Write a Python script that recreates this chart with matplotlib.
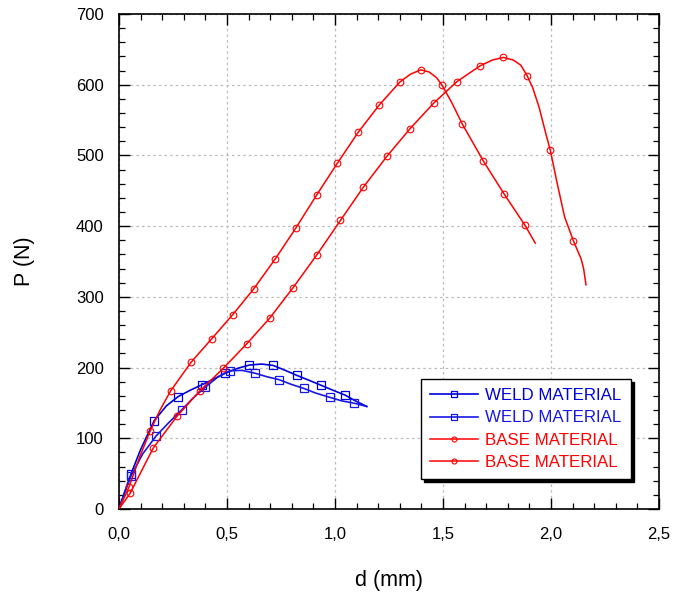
import matplotlib
matplotlib.use("Agg")
import matplotlib.pyplot as plt
from matplotlib.ticker import MultipleLocator, FuncFormatter

plt.rcParams['font.family'] = ['Liberation Sans', 'DejaVu Sans']

# ---- data ----
weld1_x = [0, 0.02, 0.056, 0.10, 0.163, 0.22, 0.274, 0.33, 0.386, 0.44, 0.49, 0.55, 0.603,
           0.66, 0.714, 0.77, 0.823, 0.88, 0.935, 0.99, 1.047, 1.10, 1.147]
weld1_y = [0, 19, 50, 84, 125, 146, 159, 168, 176, 184, 192, 199, 203.5,
           205, 203, 196, 189, 182, 175, 168, 161, 152, 145]
weld1_marks = [2, 4, 6, 8, 10, 12, 14, 16, 18, 20]

weld2_x = [0, 0.025, 0.056, 0.11, 0.171, 0.23, 0.29, 0.34, 0.398, 0.455, 0.514, 0.57, 0.63,
           0.685, 0.740, 0.80, 0.856, 0.91, 0.975, 1.03, 1.09, 1.147]
weld2_y = [0, 22, 47, 78, 103, 122, 140, 156, 172, 186, 195.6, 196, 192,
           187, 183, 176, 170.5, 164, 158, 153, 149.5, 145]
weld2_marks = [2, 4, 6, 8, 10, 12, 14, 16, 18, 20]

base1_x = [0, 0.047, 0.095, 0.144, 0.19, 0.239, 0.335, 0.430, 0.527, 0.623, 0.722, 0.818,
           0.915, 1.011, 1.108, 1.204, 1.301, 1.35, 1.397, 1.436, 1.47, 1.494, 1.54,
           1.590, 1.687, 1.784, 1.880, 1.927]
base1_y = [0, 31.6, 73, 110, 140, 167, 208, 241, 275, 311, 353, 397,
           444, 489, 533, 571, 604, 615, 621, 618, 610, 600, 575,
           544, 492, 445, 401, 376]
base1_marks = [1, 3, 5, 6, 7, 8, 9, 10, 11, 12, 13, 14, 15, 16, 18, 21, 23, 24, 25, 26]

base2_x = [0, 0.051, 0.158, 0.268, 0.374, 0.483, 0.591, 0.698, 0.806, 0.915, 1.025,
           1.131, 1.241, 1.348, 1.457, 1.563, 1.673, 1.73, 1.780, 1.826, 1.86, 1.889,
           1.915, 1.945, 1.975, 1.997, 2.029, 2.063, 2.104, 2.139, 2.151, 2.162]
base2_y = [0, 22, 86, 131, 167, 199, 233.5, 270, 313, 359, 408,
           455, 499, 538, 574, 604, 627, 635, 638.6, 634.8, 627.7, 613,
           596, 568, 532, 507, 460, 413, 379, 354, 340, 317]
base2_marks = [1, 2, 3, 4, 5, 6, 7, 8, 9, 10, 11, 12, 13, 14, 15, 16, 18, 21, 25, 28]

labels = ["WELD MATERIAL", "WELD MATERIAL", "BASE MATERIAL", "BASE MATERIAL"]
x_ticks = [0, 0.5, 1.0, 1.5, 2.0, 2.5]
y_ticks = [0, 100, 200, 300, 400, 500, 600, 700]

# ---- figure ----
fig = plt.figure(figsize=(6.75, 5.99), dpi=100)
ax = fig.add_axes([119/675, 1-509/599, 540/675, 495/599])

blue1 = '#0000DD'
blue2 = '#1818E6'
red = '#FF0000'

ax.plot(weld1_x, weld1_y, color=blue1, lw=1.2, marker='s', ms=5.2, mfc='none',
        mew=0.9, markevery=weld1_marks, label=labels[0], zorder=3)
ax.plot(weld2_x, weld2_y, color=blue2, lw=1.2, marker='s', ms=5.2, mfc='none',
        mew=0.9, markevery=weld2_marks, label=labels[1], zorder=3)
ax.plot(base1_x, base1_y, color=red, lw=1.1, marker='o', ms=4.8, mfc='none',
        mew=0.8, markevery=base1_marks, label=labels[2], zorder=3)
ax.plot(base2_x, base2_y, color=red, lw=1.1, marker='o', ms=4.8, mfc='none',
        mew=0.8, markevery=base2_marks, label=labels[3], zorder=3)

ax.set_xlim(0, 2.5)
ax.set_ylim(0, 700)
ax.set_xticks(x_ticks)
ax.set_yticks(y_ticks)
ax.xaxis.set_minor_locator(MultipleLocator(0.1))
ax.yaxis.set_minor_locator(MultipleLocator(20))
ax.xaxis.set_major_formatter(FuncFormatter(lambda v, p: f"{v:.1f}".replace('.', ',')))
ax.yaxis.set_major_formatter(FuncFormatter(lambda v, p: f"{v:.0f}"))

ax.tick_params(which='both', direction='in', top=True, right=True, colors='black',
               labelsize=12)
ax.tick_params(which='major', length=8, width=1)
ax.tick_params(axis='x', which='major', pad=13)
ax.tick_params(axis='y', which='major', pad=11)
ax.tick_params(which='minor', length=4, width=0.9)
for s in ax.spines.values():
    s.set_linewidth(1.2)

ax.grid(True, which='major', color='#BBBBBB', linestyle=(0, (2, 2.5)), linewidth=0.9)
ax.set_axisbelow(True)

ax.set_xlabel("d (mm)", fontsize=15.5)
ax.set_ylabel("P (N)", fontsize=15.5)
ax.xaxis.set_label_coords(0.5, -0.124)
ax.yaxis.set_label_coords(-0.155, 0.5)

leg = ax.legend(loc='lower left', bbox_to_anchor=(0.559, 0.0606), borderaxespad=0,
                fontsize=12.2, frameon=True, fancybox=False, framealpha=1,
                edgecolor='black', handlelength=2.8, handletextpad=0.45,
                labelspacing=0.42, borderpad=0.55, markerscale=0.75,
                shadow={'color': 'black', 'alpha': 1})
leg.get_frame().set_linewidth(1.0)
for t, c in zip(leg.get_texts(), [blue1, blue2, red, red]):
    t.set_color(c)

fig.savefig("out.png", dpi=100)
